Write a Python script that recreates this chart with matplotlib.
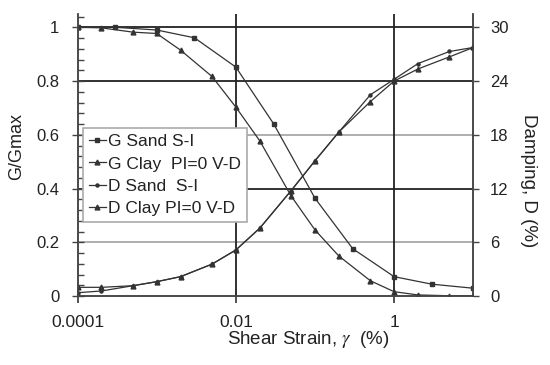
import numpy as np
import matplotlib
matplotlib.use('Agg')
import matplotlib.pyplot as plt
from matplotlib.ticker import MultipleLocator, NullLocator, FixedLocator

plt.rcParams['font.family'] = ['Liberation Sans', 'DejaVu Sans']
plt.rcParams['mathtext.fontset'] = 'stix'

# Modulus reduction curves
strain_sand = [1e-4, 3e-4, 1e-3, 3e-3, 0.01, 0.03, 0.1, 0.3, 1, 3, 10]
g_sand = [1.0, 1.0, 0.99, 0.961, 0.852, 0.641, 0.364, 0.176, 0.072, 0.044, 0.029]

strain_clay = [1e-4, 2e-4, 5e-4, 1e-3, 2e-3, 5e-3, 0.01, 0.02, 0.05, 0.1, 0.2, 0.5, 1, 2, 5, 10]
g_clay = [1.0, 0.998, 0.982, 0.977, 0.915, 0.817, 0.703, 0.578, 0.372, 0.246, 0.149, 0.057, 0.016, 0.004, 0.001, 0.0]

# Damping curves (%)
strain_d = [1e-4, 2e-4, 5e-4, 1e-3, 2e-3, 5e-3, 0.01, 0.02, 0.05, 0.1, 0.2, 0.5, 1, 2, 5, 10]
d_sand = [0.37, 0.56, 1.15, 1.6, 2.16, 3.56, 5.14, 7.56, 11.77, 15.1, 18.3, 22.46, 24.2, 25.95, 27.3, 27.75]
d_clay = [0.97, 0.97, 1.15, 1.6, 2.16, 3.56, 5.14, 7.56, 11.77, 15.1, 18.3, 21.7, 24.0, 25.35, 26.7, 27.75]

fig = plt.figure(figsize=(5.5, 3.65), dpi=100)
ax = fig.add_axes([0.141, 0.189, 0.7195, 0.773])
ax2 = ax.twinx()

lc = '#333333'
l1, = ax.plot(strain_sand, g_sand, color=lc, lw=0.9, marker='s', ms=2.5, label='G Sand S-I')
l2, = ax.plot(strain_clay, g_clay, color=lc, lw=0.9, marker='^', ms=3.5, label='G Clay  PI=0 V-D')
l3, = ax2.plot(strain_d, d_sand, color=lc, lw=0.9, marker='o', ms=2.2, label='D Sand  S-I')
l4, = ax2.plot(strain_d, d_clay, color=lc, lw=0.9, marker='^', ms=3.5, label='D Clay PI=0 V-D')

ax.set_xscale('log')
ax.set_xlim(1e-4, 10)
ax.set_ylim(0, 1.05)
ax2.set_ylim(0, 31.5)

ax.xaxis.set_major_locator(FixedLocator([1e-4, 1e-2, 1]))
ax.xaxis.set_minor_locator(NullLocator())
ax.set_xticklabels(['0.0001', '0.01', '1'])
ax.set_yticks([0, 0.2, 0.4, 0.6, 0.8, 1.0])
ax.set_yticklabels(['0', '0.2', '0.4', '0.6', '0.8', '1'])
ax.yaxis.set_minor_locator(MultipleLocator(0.04))
ax2.set_yticks([0, 6, 12, 18, 24, 30])

# grid lines (some scanned lighter)
for y in [0.4, 0.8, 1.0]:
    ax.axhline(y, color='#222222', lw=1.3, zorder=0.5)
for y in [0.2, 0.6]:
    ax.axhline(y, color='#999999', lw=1.1, zorder=0.5)
for x in [1e-2, 1]:
    ax.axvline(x, color='#222222', lw=1.3, zorder=0.5)

for a in (ax, ax2):
    a.spines['top'].set_visible(False)
    for s in ('left', 'right', 'bottom'):
        a.spines[s].set_color('#444444')
        a.spines[s].set_linewidth(1.1)

ax.tick_params(axis='y', which='major', direction='inout', length=8, width=1, labelsize=12, colors='#444444', labelcolor='#222222', pad=9)
ax.tick_params(axis='y', which='minor', direction='in', length=4, width=1, colors='#444444')
ax.tick_params(axis='x', which='major', direction='inout', length=10, width=1.2, labelsize=12.5, colors='#333333', labelcolor='#222222', pad=9)
ax2.tick_params(axis='y', direction='out', length=4, width=1, labelsize=12, colors='#444444', labelcolor='#222222', pad=8)

ax.set_ylabel('G/Gmax', fontsize=13, color='#222222', va='center')
ax.yaxis.set_label_coords(-0.155, 0.53)
ax2.set_ylabel('Damping, D (%)', fontsize=13.5, color='#222222', rotation=270, va='center')
ax2.yaxis.set_label_coords(1.14, 0.41)
ax.set_xlabel(r'Shear Strain, $\gamma$  (%)', fontsize=13.5, color='#222222', va='center')
ax.xaxis.set_label_coords(0.583, -0.155)

leg = ax2.legend(handles=[l1, l2, l3, l4], loc='upper left', bbox_to_anchor=(0.014, 0.596),
                 borderaxespad=0, fontsize=12.5, handlelength=0.95, handletextpad=0.12,
                 labelspacing=0.42, borderpad=0.35, fancybox=False, framealpha=1,
                 edgecolor='#aaaaaa')
leg.get_frame().set_linewidth(1.2)
for t in leg.get_texts():
    t.set_color('#222222')

fig.savefig('out.png', dpi=100)
